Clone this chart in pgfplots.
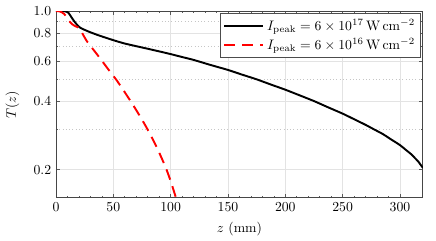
\documentclass[border=0pt]{standalone}
\usepackage{pgfplots}
\pgfplotsset{compat=1.18}
\begin{document}
\begin{tikzpicture}
\useasboundingbox (-40.6bp,-30.5bp) rectangle (275.5bp,143.5bp);
\begin{semilogyaxis}[
  at={(0,0)}, anchor=south west,
  scale only axis,
  width=266bp, height=135.5bp,
  xmin=0, xmax=320, ymin=0.15, ymax=1.0,
  xtick={0,50,100,150,200,250,300},
  minor x tick num=4,
  ytick={0.2,0.4,0.6,0.8,1.0},
  yticklabels={0.2,0.4,0.6,0.8,1.0},
  minor ytick={0.3,0.5,0.7,0.9},
  tick align=inside,
  major tick length=3pt, minor tick length=1.6pt,
  every tick/.style={gray!70!black, line width=0.5pt},
  axis line style={gray!55!black, line width=0.7pt},
  grid=both,
  major grid style={gray!22, line width=0.4pt},
  minor x grid style={draw=none},
  minor grid style={gray!45, dotted, line width=0.5pt},
  xlabel={$z$ (mm)},
  ylabel={$T(z)$},
  xlabel style={yshift=-1pt},
  ylabel style={yshift=3.5bp},
  legend cell align=left,
  legend image code/.code={\draw[#1] (0cm,0cm) -- (1cm,0cm);},
  legend style={at={(rel axis cs:1,1)}, xshift=-1.5bp, yshift=-1.5bp, anchor=north east, draw=gray!60!black, line width=0.6pt, inner xsep=2pt, inner ysep=2.5pt, row sep=0pt, font=\normalsize},
  clip=true,
]
\addplot[black, line width=1.4pt, smooth, tension=0.4] coordinates {
(0,1.0) (5,1.0) (8,0.997) (10.8,0.983) (13.7,0.935) (16,0.9) (18,0.874) (21,0.845)
(25,0.826) (30,0.806) (37,0.782) (45,0.758) (53,0.736) (60,0.719) (70,0.700) (80,0.682)
(90,0.664) (100,0.646) (110,0.627) (120,0.609) (135,0.578) (150,0.550) (162.5,0.524)
(175,0.500) (187.5,0.474) (200,0.450) (212.5,0.425) (225,0.401) (237.5,0.376) (250,0.353)
(260,0.3335) (270,0.315) (277.5,0.3006) (285,0.287) (292.5,0.2712) (300,0.2565) (305,0.2446)
(310,0.2333) (313,0.225) (316,0.217) (318,0.210) (320,0.2036)
};
\addlegendentry{$I_{\mathrm{peak}} = 6\times10^{17}\,\mathrm{W\,cm^{-2}}$}
\addplot[red, line width=1.4pt, dash pattern=on 8pt off 5pt, smooth, tension=0.4] coordinates {
(0,1.0) (3,0.997) (5,0.988) (7,0.972) (9,0.945) (11,0.91) (12.2,0.895) (14.5,0.872) (16.6,0.859)
(19,0.848) (21,0.83) (23.9,0.782) (26.8,0.738) (31,0.692) (35,0.652) (40,0.604) (46,0.550)
(52.7,0.497) (58.5,0.450) (65.8,0.3955) (73,0.3454) (80.3,0.298) (88,0.250) (95.5,0.2053)
(100,0.178) (104.5,0.151) (106,0.143)
};
\addlegendentry{$I_{\mathrm{peak}} = 6\times10^{16}\,\mathrm{W\,cm^{-2}}$}
\end{semilogyaxis}
\end{tikzpicture}
\end{document}
